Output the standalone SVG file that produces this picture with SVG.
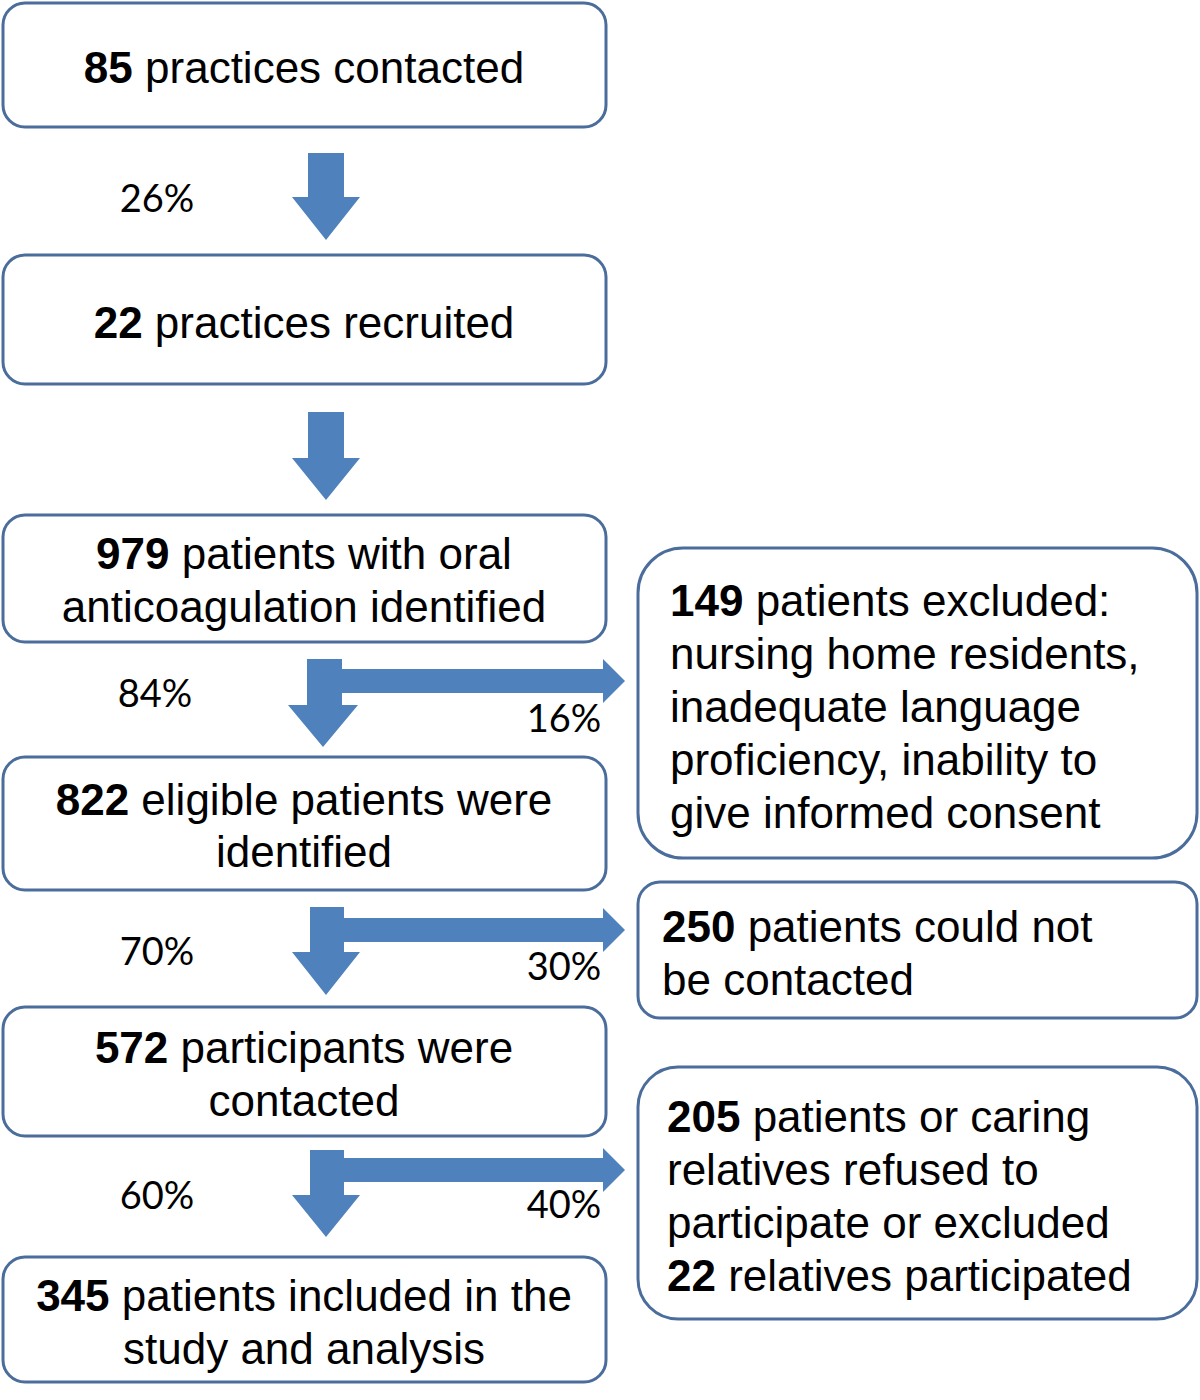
<svg xmlns="http://www.w3.org/2000/svg" width="1200" height="1400" viewBox="0 0 1200 1400">
<style>
.box{fill:#ffffff;stroke:#4a6d9c;stroke-width:3}
.t{font-family:"Liberation Sans",Arial,sans-serif;font-size:44px;fill:#000}
.b{font-weight:bold}
.p{font-family:Lato,"Open Sans",sans-serif;font-size:38px;fill:#000}
.arr{fill:#4f81bd}
</style>
<rect width="1200" height="1400" fill="#fff"/>
<g id="connectors">
<path class="arr" d="M308,153 H344 V197 H360 L326,240 L292,197 H308 Z"/>
<path class="arr" d="M308,412 H344 V458 H360 L326,500 L292,458 H308 Z"/>
<path class="arr" d="M307,659 H342 V669 H603 V659 L625,681 L603,703 V693 H342 V705 H358 L323,747 L288,705 H307 Z"/>
<path class="arr" d="M310,907 H344 V918 H603 V908 L625,930 L603,952 V942 H344 V952 H360 L326,995 L292,952 H310 Z"/>
<path class="arr" d="M310,1150 H344 V1158 H603 V1148 L625,1170 L603,1192 V1182 H344 V1195 H360 L326,1237 L292,1195 H310 Z"/>
<text class="p" x="157" y="212" text-anchor="middle">26%</text>
<text class="p" x="155" y="707" text-anchor="middle">84%</text>
<text class="p" x="564" y="732" text-anchor="middle">16%</text>
<text class="p" x="157" y="965" text-anchor="middle">70%</text>
<text class="p" x="564" y="980" text-anchor="middle">30%</text>
<text class="p" x="157" y="1209" text-anchor="middle">60%</text>
<text class="p" x="564" y="1218" text-anchor="middle">40%</text>
</g>
<g id="n1">
<rect class="box" x="3" y="3" width="603" height="124" rx="22"/>
<text class="t" x="304" y="83" text-anchor="middle"><tspan class="b">85</tspan> practices contacted</text>
</g>
<g id="n2">
<rect class="box" x="3" y="255" width="603" height="129" rx="22"/>
<text class="t" x="304" y="338" text-anchor="middle"><tspan class="b">22</tspan> practices recruited</text>
</g>
<g id="n3">
<rect class="box" x="3" y="515" width="603" height="127" rx="22"/>
<text class="t" x="304" y="569" text-anchor="middle"><tspan class="b">979</tspan> patients with oral</text>
<text class="t" x="304" y="622" text-anchor="middle">anticoagulation identified</text>
</g>
<g id="n4">
<rect class="box" x="3" y="757" width="603" height="133" rx="22"/>
<text class="t" x="304" y="815" text-anchor="middle"><tspan class="b">822</tspan> eligible patients were</text>
<text class="t" x="304" y="867" text-anchor="middle">identified</text>
</g>
<g id="n5">
<rect class="box" x="3" y="1007" width="603" height="129" rx="22"/>
<text class="t" x="304" y="1063" text-anchor="middle"><tspan class="b">572</tspan> participants were</text>
<text class="t" x="304" y="1116" text-anchor="middle">contacted</text>
</g>
<g id="n6">
<rect class="box" x="3" y="1257" width="603" height="125" rx="22"/>
<text class="t" x="304" y="1311" text-anchor="middle"><tspan class="b">345</tspan> patients included in the</text>
<text class="t" x="304" y="1364" text-anchor="middle">study and analysis</text>
</g>
<g id="r1">
<rect class="box" x="638" y="548" width="559" height="310" rx="45"/>
<text class="t" x="670" y="616"><tspan class="b">149</tspan> patients excluded:</text>
<text class="t" x="670" y="669">nursing home residents,</text>
<text class="t" x="670" y="722">inadequate language</text>
<text class="t" x="670" y="775">proficiency, inability to</text>
<text class="t" x="670" y="828">give informed consent</text>
</g>
<g id="r2">
<rect class="box" x="638" y="882" width="559" height="136" rx="22"/>
<text class="t" x="662" y="942"><tspan class="b">250</tspan> patients could not</text>
<text class="t" x="662" y="995">be contacted</text>
</g>
<g id="r3">
<rect class="box" x="638" y="1067" width="559" height="252" rx="40"/>
<text class="t" x="667" y="1132"><tspan class="b">205</tspan> patients or caring</text>
<text class="t" x="667" y="1185">relatives refused to</text>
<text class="t" x="667" y="1238">participate or excluded</text>
<text class="t" x="667" y="1291"><tspan class="b">22</tspan> relatives participated</text>
</g>
</svg>
